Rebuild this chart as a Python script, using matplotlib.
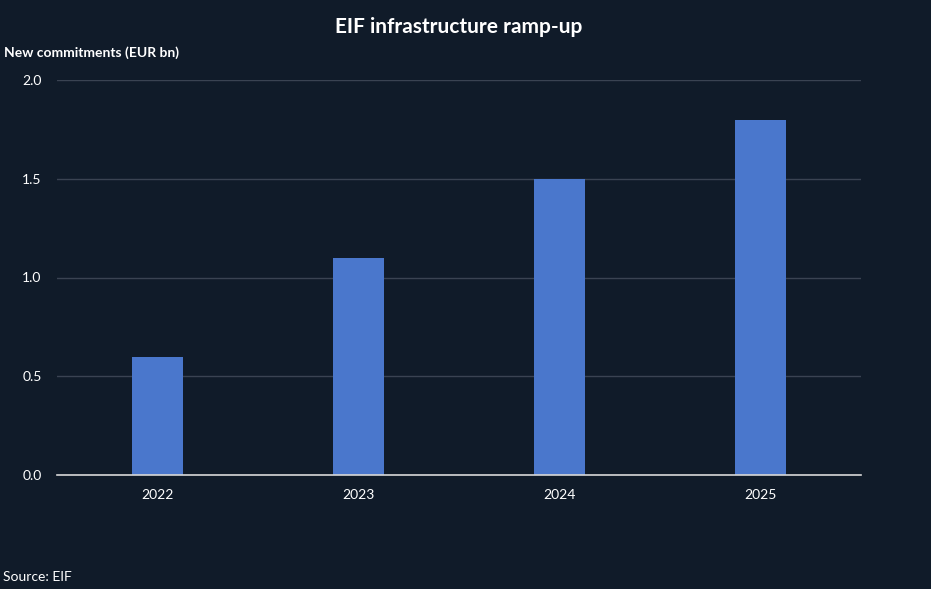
import matplotlib.pyplot as plt

plt.rcParams['font.family'] = ['Lato', 'DejaVu Sans']

# Daten
years = ["2022", "2023", "2024", "2025"]
commitments = [0.6, 1.1, 1.5, 1.8]
y_ticks = [0.0, 0.5, 1.0, 1.5, 2.0]

bg = "#101b29"
bar_color = "#4a77cc"
grid_color = "#3a4352"
text_color = "#ffffff"

fig = plt.figure(figsize=(9.31, 5.89), dpi=100, facecolor=bg)
ax = fig.add_axes([57 / 931, 1 - 475 / 589, (861 - 57) / 931, (475 - 80) / 589])
ax.set_facecolor(bg)

x = range(len(years))
ax.bar(x, commitments, width=0.25, color=bar_color, zorder=3)

ax.set_xlim(-0.5, len(years) - 0.5)
ax.set_ylim(0, 2.0)
ax.set_xticks(list(x))
ax.set_xticklabels(years)
ax.set_yticks(y_ticks)
ax.set_yticklabels([f"{v:.1f}" for v in y_ticks])

ax.grid(axis="y", color=grid_color, linewidth=1, zorder=0)
ax.tick_params(axis="both", length=0, colors=text_color, labelsize=10)
ax.tick_params(axis="y", pad=11)
ax.tick_params(axis="x", pad=10)
for side in ["top", "right", "left"]:
    ax.spines[side].set_visible(False)
ax.spines["bottom"].set_color("#d8d8d8")
ax.spines["bottom"].set_linewidth(1.2)
ax.spines["bottom"].set_zorder(4)

fig.text(459 / 931, 1 - 27 / 589, "EIF infrastructure ramp-up", ha="center", va="center",
         color=text_color, fontsize=15, fontweight="bold")
fig.text(4 / 931, 1 - 53 / 589, "New commitments (EUR bn)", ha="left", va="center",
         color=text_color, fontsize=10, fontweight="bold")
fig.text(3 / 931, 1 - 577 / 589, "Source: EIF", ha="left", va="center",
         color=text_color, fontsize=10)

fig.savefig("out.png", dpi=100, facecolor=bg)
